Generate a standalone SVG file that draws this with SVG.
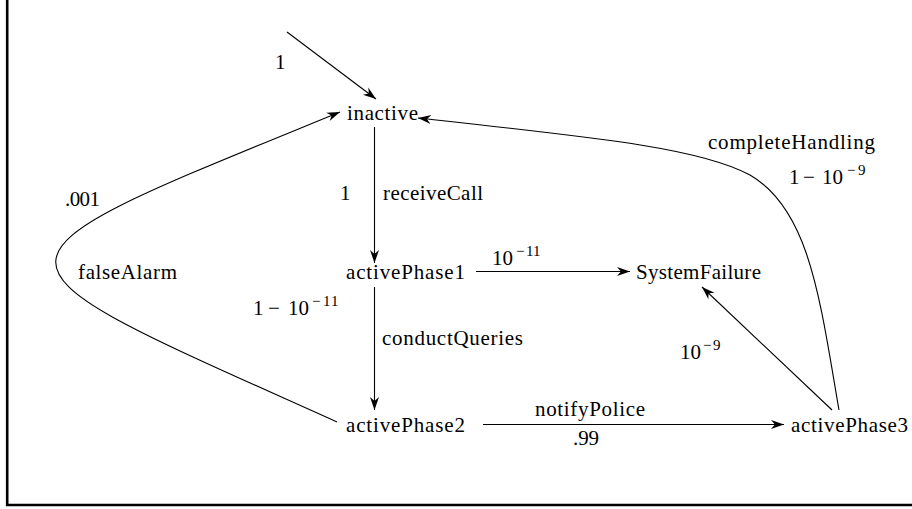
<svg xmlns="http://www.w3.org/2000/svg" width="912" height="509" viewBox="0 0 912 509">
<defs>
<style>
text{font-family:"Liberation Serif","DejaVu Serif",serif;font-size:21px;fill:#000}
.s{font-size:15px}
.e{fill:none;stroke:#000;stroke-width:1.1}
</style>
<marker id="arr" markerUnits="userSpaceOnUse" markerWidth="20" markerHeight="20" viewBox="-15 -10 20 20" refX="0" refY="0" orient="auto" overflow="visible">
<path d="M0,0 L-13,-4.5 L-9,0 L-13,4.5 Z" fill="#000"/>
</marker>
</defs>
<rect width="912" height="509" fill="#fff"/>
<path d="M7.2,0 V505 H912" fill="none" stroke="#000" stroke-width="2.6"/>
<g id="connectors">
<path id="init" class="e" d="M287,32 L376,99" marker-end="url(#arr)"/>
<path id="e-inactive-ap1" class="e" d="M374.5,127 V263" marker-end="url(#arr)"/>
<path id="e-ap1-ap2" class="e" d="M374.5,287 V410" marker-end="url(#arr)"/>
<path id="e-ap1-sf" class="e" d="M476,271.5 H630" marker-end="url(#arr)"/>
<path id="e-ap2-ap3" class="e" d="M483,424.5 H784" marker-end="url(#arr)"/>
<path id="e-ap3-sf" class="e" d="M832,410 L702,287" marker-end="url(#arr)"/>
<path id="e-ap3-inactive" class="e" d="M839,410 C820,300 810,210 750,175 C700,148 600,138 418,118" marker-end="url(#arr)"/>
<path id="e-ap2-inactive" class="e" d="M337,422 C-36,254 -41,268 340,112" marker-end="url(#arr)"/>
</g>
<g id="edge-labels">
<text x="275" y="69">1</text>
<text x="340" y="200">1</text>
<text x="383" y="200" textLength="100" lengthAdjust="spacing">receiveCall</text>
<text x="65" y="206" textLength="35" lengthAdjust="spacing">.001</text>
<text x="78" y="279" textLength="99" lengthAdjust="spacing">falseAlarm</text>
<text><tspan x="492" y="265">10</tspan><tspan class="s" x="516 526 533" y="256">−11</tspan></text>
<text><tspan x="253" y="315">1</tspan><tspan x="268" y="315">−</tspan><tspan x="288" y="315">10</tspan><tspan class="s" x="312 323 331" y="306">−11</tspan></text>
<text x="382" y="345" textLength="141" lengthAdjust="spacing">conductQueries</text>
<text><tspan x="680" y="359">10</tspan><tspan class="s" x="703 713" y="350">−9</tspan></text>
<text x="535" y="416" textLength="110" lengthAdjust="spacing">notifyPolice</text>
<text x="573" y="445" textLength="26" lengthAdjust="spacing">.99</text>
<text x="708" y="149" textLength="167" lengthAdjust="spacing">completeHandling</text>
<text><tspan x="789" y="184">1</tspan><tspan x="803" y="184">−</tspan><tspan x="822" y="184">10</tspan><tspan class="s" x="847 858" y="175">−9</tspan></text>
</g>
<g id="inactive"><text x="347" y="120" textLength="71" lengthAdjust="spacing">inactive</text></g>
<g id="activePhase1"><text x="346" y="279" textLength="119" lengthAdjust="spacing">activePhase1</text></g>
<g id="SystemFailure"><text x="636" y="279" textLength="125" lengthAdjust="spacing">SystemFailure</text></g>
<g id="activePhase2"><text x="346" y="432" textLength="119" lengthAdjust="spacing">activePhase2</text></g>
<g id="activePhase3"><text x="791" y="432" textLength="117" lengthAdjust="spacing">activePhase3</text></g>
</svg>
